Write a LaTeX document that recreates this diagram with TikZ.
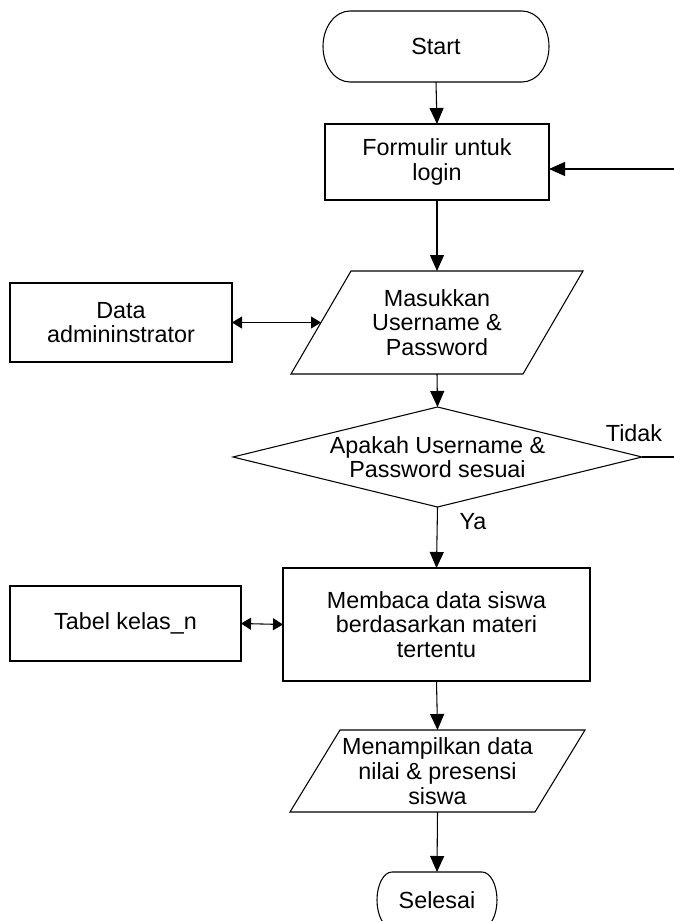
\documentclass[tikz,border=0pt]{standalone}
\usepackage{fontspec}
\setmainfont{Liberation Sans}
\usetikzlibrary{arrows.meta,calc}

% outlines drawn around invisible text nodes
\newcommand\termoutline[3]{% node, x radius, y radius
  \draw[outline] ([xshift=#2]#1.north west) -- ([xshift=-#2]#1.north east)
    arc[start angle=90,end angle=-90,x radius=#2,y radius=#3]
    -- ([xshift=#2]#1.south west)
    arc[start angle=270,end angle=90,x radius=#2,y radius=#3] -- cycle;}
\newcommand\slantoutline[2]{% node, half of the horizontal slant
  \draw[outline] ([xshift=#2]#1.north west) -- ([xshift=#2]#1.north east)
    -- ([xshift=-#2]#1.south east) -- ([xshift=-#2]#1.south west) -- cycle;}
\newcommand\rhombusoutline[1]{%
  \draw[outline] (#1.north) -- (#1.east) -- (#1.south) -- (#1.west) -- cycle;}

\begin{document}
\begin{tikzpicture}[x=0.75pt,y=-0.75pt,
  every node/.style={font=\fontsize{17.5}{18.5}\selectfont, align=center},
  txt/.style={inner sep=0pt, outer sep=0pt},
  procbox/.style={txt, draw=black, line width=0.8pt},
  outline/.style={draw=black, line width=0.8pt},
  flow/.style={draw=black, line width=0.8pt, -{Triangle[length=12pt,width=10.5pt]}},
  link/.style={draw=black, line width=0.8pt,
    {Triangle[length=7.5pt,width=9pt]}-{Triangle[length=7.5pt,width=9pt]}},
  plain/.style={draw=black, line width=0.8pt}]
\useasboundingbox (0,0) rectangle (674,921);
\clip (0,0) rectangle (674,921);

% terminators, processes, inputs/outputs, decision
\node[txt, minimum width=169.5pt, minimum height=53.25pt] (start) at (436,46.5) {Start};
\termoutline{start}{20.25pt}{26.625pt}

\node[procbox, minimum width=168pt, minimum height=57pt] (form) at (437,162)
  {Formulir untuk\\login};

\node[txt, minimum width=174pt, minimum height=77.25pt] (inp) at (437,322.5)
  {Masukkan\\Username \&\\Password};
\slantoutline{inp}{22.5pt}

\node[procbox, minimum width=166.5pt, minimum height=59.25pt] (admin) at (121,322.5)
  {Data\\admininstrator};

\node[txt, minimum width=306.75pt, minimum height=75pt] (dec) at (437.5,457)
  {Apakah Username \&\\Password sesuai};
\rhombusoutline{dec}

\node[procbox, minimum width=230.25pt, minimum height=84.75pt] (read) at (436.5,624.5)
  {Membaca data siswa\\berdasarkan materi\\tertentu};

\node[procbox, minimum width=173.25pt, minimum height=56.25pt] (tabel) at (125.5,623.5)
  {Tabel kelas\_n};

\node[txt, minimum width=183.75pt, minimum height=61.5pt] (out) at (437.5,771)
  {Menampilkan data\\nilai \& presensi\\siswa};
\slantoutline{out}{18.75pt}

\node[txt, minimum width=90pt, minimum height=42pt] (stop) at (437,900) {Selesai};
\termoutline{stop}{11.25pt}{21pt}

% labels of the decision branches
\node[txt] (ya) at (473,522) {Ya};
\node[txt] (tidak) at (634,433) {Tidak};

% return path on the right edge
\coordinate (rt) at (674,169);
\coordinate (rb) at (674,457);

% connectors
\draw[flow] (start.south) -- (form.north);
\draw[flow] (form.south) -- (inp.north);
\draw[flow] (inp.south) -- (dec.north);
\draw[flow] (dec.south) -- (read.north);
\draw[flow] (read.south) -- (out.north);
\draw[flow] (out.south) -- (stop.north);
\draw[link] (admin.east) -- (inp.west);
\draw[link] (tabel.east) -- (read.west);
\draw[plain] (dec.east) -- (rb);
\draw[flow] (rt) -- (rt -| form.east);
\end{tikzpicture}
\end{document}
